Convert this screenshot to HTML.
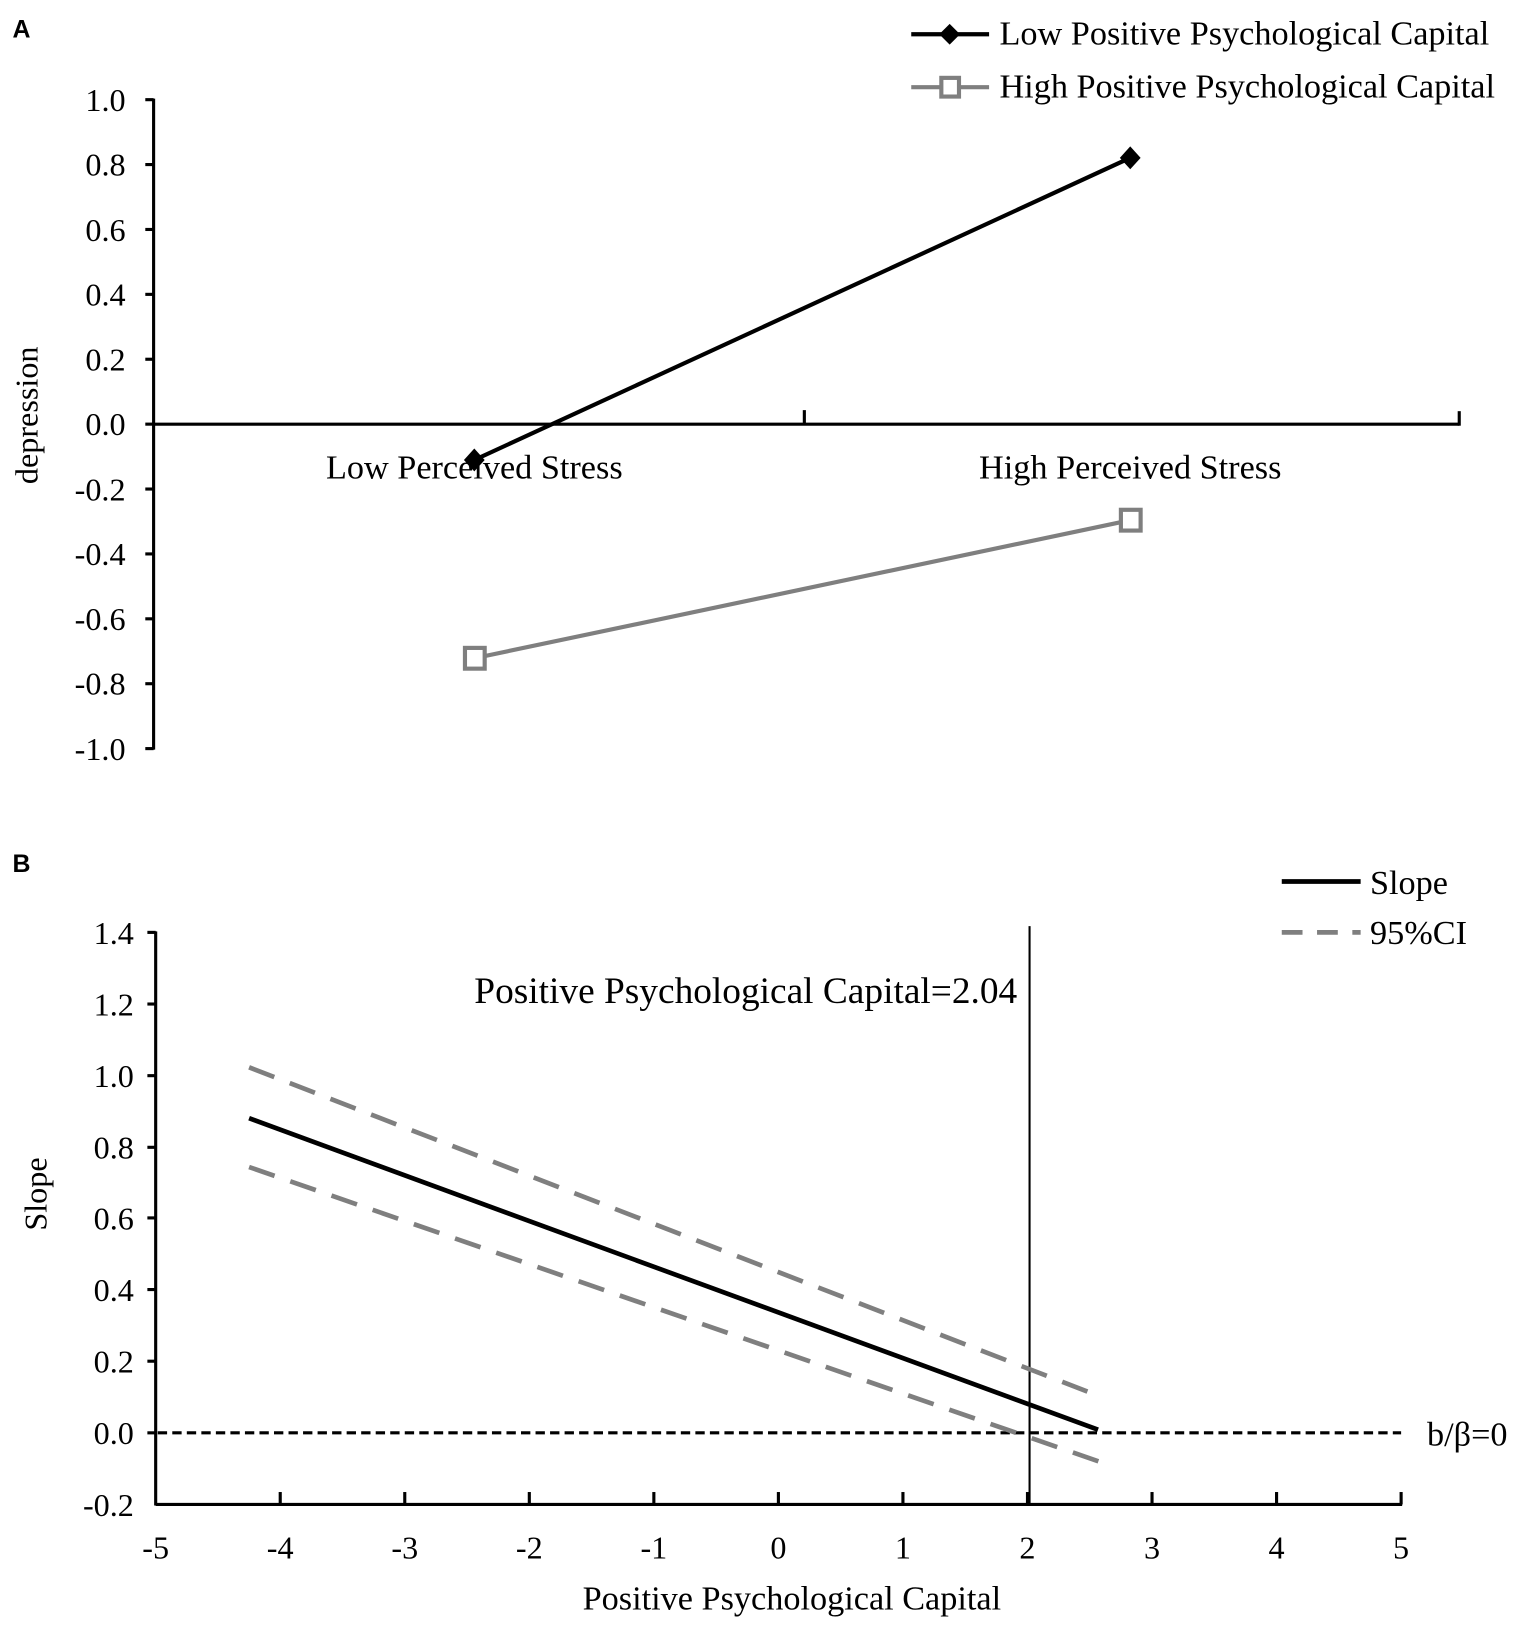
<!DOCTYPE html>
<html><head><meta charset="utf-8"><style>html,body{margin:0;padding:0;background:#fff}svg{display:block}</style></head>
<body>
<svg width="1535" height="1627" viewBox="0 0 1479 1567" preserveAspectRatio="none" xmlns="http://www.w3.org/2000/svg" font-family="Liberation Serif, serif">
<rect width="1479" height="1567" fill="#fff"/>
<!-- Panel A -->
<text x="12" y="36" font-family="Liberation Sans, sans-serif" font-weight="bold" font-size="24">A</text>
<g stroke="#000" stroke-width="3" fill="none">
<line x1="148" y1="95" x2="148" y2="722"/>
<line x1="140" y1="96" x2="148" y2="96"/><line x1="140" y1="158.5" x2="148" y2="158.5"/>
<line x1="140" y1="221" x2="148" y2="221"/><line x1="140" y1="283.5" x2="148" y2="283.5"/>
<line x1="140" y1="346" x2="148" y2="346"/><line x1="140" y1="408.5" x2="148" y2="408.5"/>
<line x1="140" y1="471" x2="148" y2="471"/><line x1="140" y1="533.5" x2="148" y2="533.5"/>
<line x1="140" y1="596" x2="148" y2="596"/><line x1="140" y1="658.5" x2="148" y2="658.5"/>
<line x1="140" y1="721" x2="148" y2="721"/>
<line x1="148" y1="408.5" x2="1406" y2="408.5"/>
<line x1="775" y1="395" x2="775" y2="408"/>
<line x1="1406" y1="396" x2="1406" y2="410"/>
</g>
<g font-size="31" text-anchor="end" fill="#000">
<text x="121" y="107">1.0</text><text x="121" y="169">0.8</text><text x="121" y="232">0.6</text>
<text x="121" y="294">0.4</text><text x="121" y="357">0.2</text><text x="121" y="419">0.0</text>
<text x="121" y="482">-0.2</text><text x="121" y="544">-0.4</text><text x="121" y="607">-0.6</text>
<text x="121" y="669">-0.8</text><text x="121" y="732">-1.0</text>
</g>
<text transform="translate(36,400) rotate(-90)" font-size="31" text-anchor="middle">depression</text>
<text x="457" y="461" font-size="33" text-anchor="middle">Low Perceived Stress</text>
<text x="1089" y="461" font-size="33" text-anchor="middle">High Perceived Stress</text>
<line x1="457" y1="443" x2="1089" y2="152" stroke="#000" stroke-width="4"/>
<polygon points="457,432 467,443 457,454 447,443" fill="#000"/>
<polygon points="1089,141 1099,152 1089,163 1079,152" fill="#000"/>
<line x1="457" y1="634" x2="1089" y2="501" stroke="#7f7f7f" stroke-width="4"/>
<rect x="448" y="624" width="19" height="20" fill="#fff" stroke="#7f7f7f" stroke-width="4"/>
<rect x="1080" y="491" width="19" height="20" fill="#fff" stroke="#7f7f7f" stroke-width="4"/>
<!-- legend A -->
<line x1="878" y1="33" x2="953" y2="33" stroke="#000" stroke-width="4"/>
<polygon points="915,23 925,33 915,43 905,33" fill="#000"/>
<text x="963" y="43" font-size="33">Low Positive Psychological Capital</text>
<line x1="878" y1="84" x2="953" y2="84" stroke="#7f7f7f" stroke-width="4"/>
<rect x="907" y="75" width="17" height="18" fill="#fff" stroke="#7f7f7f" stroke-width="4"/>
<text x="963" y="94" font-size="33">High Positive Psychological Capital</text>
<!-- Panel B -->
<text x="12" y="840" font-family="Liberation Sans, sans-serif" font-weight="bold" font-size="24">B</text>
<g stroke="#000" stroke-width="3" fill="none">
<line x1="150" y1="897" x2="150" y2="1450"/>
<line x1="150" y1="1449" x2="1351" y2="1449"/>
<line x1="142" y1="898" x2="150" y2="898"/><line x1="142" y1="967" x2="150" y2="967"/>
<line x1="142" y1="1036" x2="150" y2="1036"/><line x1="142" y1="1105" x2="150" y2="1105"/>
<line x1="142" y1="1173" x2="150" y2="1173"/><line x1="142" y1="1242" x2="150" y2="1242"/>
<line x1="142" y1="1311" x2="150" y2="1311"/><line x1="142" y1="1380" x2="150" y2="1380"/>
<line x1="270" y1="1437" x2="270" y2="1449"/><line x1="390" y1="1437" x2="390" y2="1449"/>
<line x1="510" y1="1437" x2="510" y2="1449"/><line x1="630" y1="1437" x2="630" y2="1449"/>
<line x1="750" y1="1437" x2="750" y2="1449"/><line x1="870" y1="1437" x2="870" y2="1449"/>
<line x1="990" y1="1437" x2="990" y2="1449"/><line x1="1110" y1="1437" x2="1110" y2="1449"/>
<line x1="1230" y1="1437" x2="1230" y2="1449"/><line x1="1350" y1="1437" x2="1350" y2="1449"/>
</g>
<g font-size="31" text-anchor="end">
<text x="129" y="909">1.4</text><text x="129" y="978">1.2</text><text x="129" y="1047">1.0</text>
<text x="129" y="1116">0.8</text><text x="129" y="1184">0.6</text><text x="129" y="1253">0.4</text>
<text x="129" y="1322">0.2</text><text x="129" y="1391">0.0</text><text x="129" y="1460">-0.2</text>
</g>
<g font-size="31" text-anchor="middle">
<text x="150" y="1501">-5</text><text x="270" y="1501">-4</text><text x="390" y="1501">-3</text>
<text x="510" y="1501">-2</text><text x="630" y="1501">-1</text><text x="750" y="1501">0</text>
<text x="870" y="1501">1</text><text x="990" y="1501">2</text><text x="1110" y="1501">3</text>
<text x="1230" y="1501">4</text><text x="1350" y="1501">5</text>
</g>
<text x="763" y="1550" font-size="33" text-anchor="middle">Positive Psychological Capital</text>
<text transform="translate(45,1150) rotate(-90)" font-size="31" text-anchor="middle">Slope</text>
<line x1="992" y1="892" x2="992" y2="1449" stroke="#000" stroke-width="2"/>
<line x1="152" y1="1380" x2="1350" y2="1380" stroke="#000" stroke-width="3" stroke-dasharray="9,5"/>
<text x="1375" y="1392" font-size="33">b/β=0</text>
<text x="457" y="966" font-size="36">Positive Psychological Capital=2.04</text>
<line x1="240" y1="1028" x2="1060" y2="1345" stroke="#7f7f7f" stroke-width="4.5" stroke-dasharray="26,16"/>
<line x1="240" y1="1124" x2="1060" y2="1408" stroke="#7f7f7f" stroke-width="4.5" stroke-dasharray="26,16"/>
<line x1="240" y1="1077" x2="1058" y2="1377" stroke="#000" stroke-width="4.5"/>
<!-- legend B -->
<line x1="1235" y1="849" x2="1311" y2="849" stroke="#000" stroke-width="4.5"/>
<text x="1320" y="861" font-size="33">Slope</text>
<line x1="1235" y1="898" x2="1311" y2="898" stroke="#7f7f7f" stroke-width="4.5" stroke-dasharray="20,14"/>
<text x="1320" y="909" font-size="33">95%CI</text>
</svg>
</body></html>
